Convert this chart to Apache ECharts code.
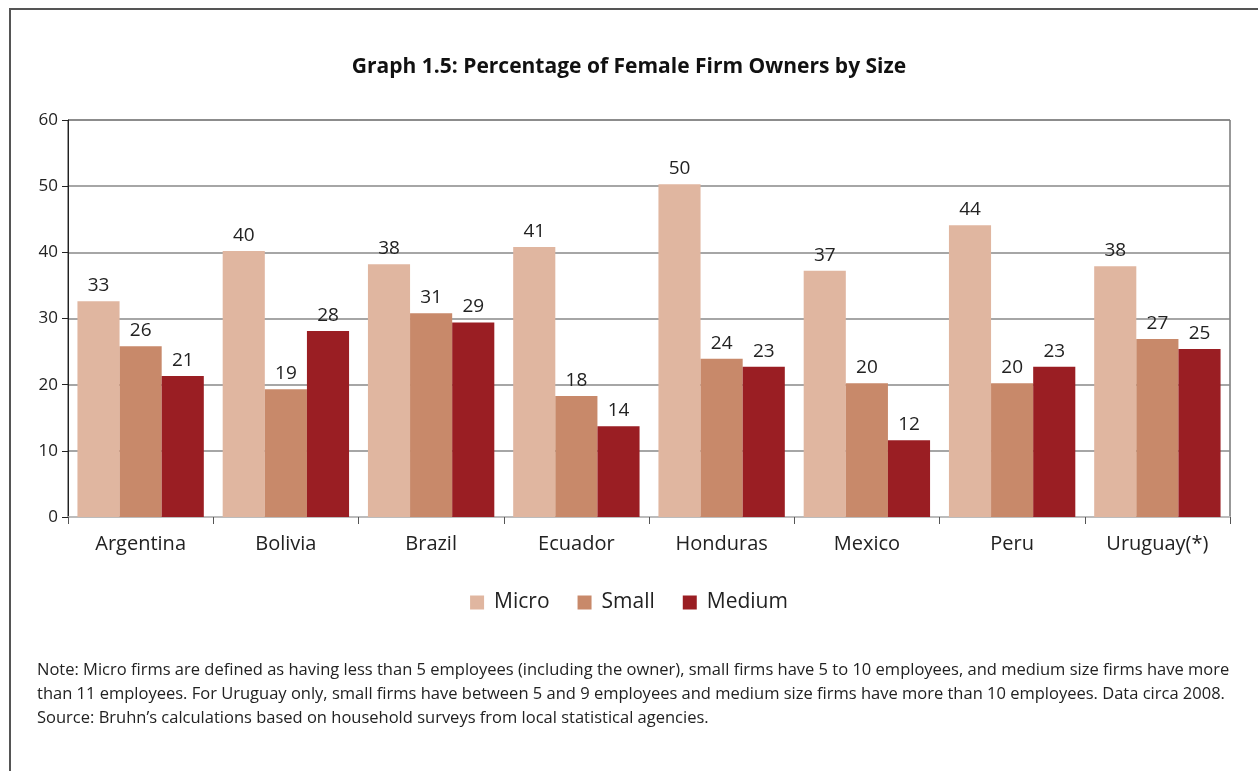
<!DOCTYPE html>
<html>
<head>
<meta charset="utf-8">
<script src="https://cdn.jsdelivr.net/npm/echarts@6/dist/echarts.min.js"></script>
<style>
  html, body { margin: 0; padding: 0; background: #fff; }
  #frame {
    position: absolute; left: 9px; top: 8px; width: 1249px; height: 763px;
    border-left: 2px solid #555; border-top: 2px solid #555;
  }
  #chart { position: absolute; left: 0; top: 0; width: 1258px; height: 771px; }
</style>
</head>
<body>
<div id="frame"></div>
<div id="chart"></div>
<script>
// categories and series (percent of female firm owners)
const countries = ['Argentina', 'Bolivia', 'Brazil', 'Ecuador', 'Honduras', 'Mexico', 'Peru', 'Uruguay(*)']
const micro = [32.6, 40.2, 38.2, 40.8, 50.3, 37.2, 44.1, 37.9]
const small = [25.8, 19.3, 30.8, 18.3, 23.9, 20.2, 20.2, 26.9]
const medium = [21.3, 28.1, 29.4, 13.7, 22.7, 11.6, 22.7, 25.4]

const seriesNames = ['Micro', 'Small', 'Medium']
const seriesColors = ['#e0b6a0', '#c8896a', '#9a1e23']

const noteLines = [
  'Note: Micro firms are defined as having less than 5 employees (including the owner), small firms have 5 to 10 employees, and medium size firms have more',
  'than 11 employees. For Uruguay only, small firms have between 5 and 9 employees and medium size firms have more than 10 employees. Data circa 2008.',
  'Source: Bruhn\u2019s calculations based on household surveys from local statistical agencies.'
]

const FONT = '"Open Sans", "Noto Sans", sans-serif'

const chart = echarts.init(document.getElementById('chart'))

const makeSeries = (name, data, color) => ({
  name,
  type: 'bar',
  data,
  barGap: '0%',
  barCategoryGap: '13%',
  itemStyle: { color },
  label: {
    show: true,
    position: 'top',
    distance: 6,
    color: '#222',
    fontSize: 19,
    fontFamily: FONT,
    formatter: (p) => Math.round(p.value)
  }
})

chart.setOption({
  animation: false,
  title: {
    text: 'Graph 1.5: Percentage of Female Firm Owners by Size',
    left: 'center',
    top: 52,
    textStyle: { fontSize: 21, fontWeight: 'bold', color: '#111', fontFamily: FONT }
  },
  grid: {
    left: 68, right: 28, top: 120, bottom: 254,
    show: true, borderColor: '#333', borderWidth: 1
  },
  legend: {
    top: 587,
    left: 'center',
    itemWidth: 14,
    itemHeight: 14,
    itemGap: 28,
    icon: 'rect',
    textStyle: { fontSize: 21, color: '#222', fontFamily: FONT, padding: [0, 0, 0, 5] },
    data: seriesNames
  },
  xAxis: {
    type: 'category',
    data: countries,
    axisLine: { lineStyle: { color: '#ccc', width: 1.5 } },
    axisTick: { show: true, length: 7, lineStyle: { color: '#555' } },
    axisLabel: { fontSize: 20, color: '#222', margin: 17, fontFamily: FONT }
  },
  yAxis: {
    type: 'value',
    min: 0,
    max: 60,
    interval: 10,
    axisLine: { show: true, lineStyle: { color: '#222', width: 1 } },
    axisTick: { show: true, length: 6, lineStyle: { color: '#222' } },
    axisLabel: { fontSize: 17, color: '#222', margin: 10, fontFamily: FONT },
    splitLine: { lineStyle: { color: '#888', width: 1.5 } }
  },
  series: [
    makeSeries(seriesNames[0], micro, seriesColors[0]),
    makeSeries(seriesNames[1], small, seriesColors[1]),
    makeSeries(seriesNames[2], medium, seriesColors[2])
  ],
  graphic: noteLines.map((t, i) => ({
    type: 'text',
    left: 37,
    top: 662 + i * 24,
    style: { text: t, fontSize: 16.5, fill: '#222', fontFamily: FONT }
  }))
})
</script>
</body>
</html>
